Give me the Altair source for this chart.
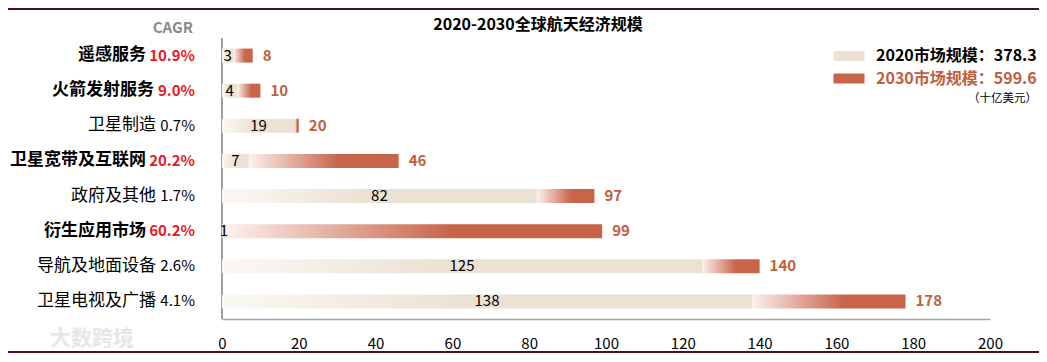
import altair as alt
import pandas as pd

categories = ["遥感服务", "火箭发射服务", "卫星制造", "卫星宽带及互联网",
              "政府及其他", "衍生应用市场", "导航及地面设备", "卫星电视及广播"]
cagr = [10.9, 9.0, 0.7, 20.2, 1.7, 60.2, 2.6, 4.1]
v2020 = [3, 4, 19, 7, 82, 1, 125, 138]
v2030 = [8, 10, 20, 46, 97, 99, 140, 178]
x_ticks = [0, 20, 40, 60, 80, 100, 120, 140, 160, 180, 200]
series = ["2020市场规模：378.3", "2030市场规模：599.6"]
title_text = "2020-2030全球航天经济规模"
unit_text = "（十亿美元）"

labels = [f"{c} {g:.1f}%" for c, g in zip(categories, cagr)]
df = pd.DataFrame({
    "label": labels,
    "cagr": cagr,
    "cagr_txt": [f"{g:.1f}%" for g in cagr],
    "v2020": v2020,
    "v2030": v2030,
})
df["mid"] = df["v2020"] / 2
hl = [l for l, g in zip(labels, cagr) if g >= 9]

FONT = "Noto Sans CJK SC"
TERRA = "#C8644A"
TERRA_TXT = "#C0603F"
RED = "#E8191F"

in_hl = "indexof([" + ",".join(f"'{h}'" for h in hl) + "], datum.value) >= 0"
long_cagr = "length(split(datum.value, ' ')[1]) == 5"

y_enc = alt.Y(
    "label:N", sort=labels, title="CAGR",
    scale=alt.Scale(paddingInner=0.6, paddingOuter=0.3),
    axis=alt.Axis(
        ticks=False, labelLimit=400, labelOverlap=False,
        labelExpr="split(datum.value, ' ')[0]",
        labelPadding={"condition": [
            {"test": f"({in_hl}) && ({long_cagr})", "value": 76},
            {"test": in_hl, "value": 68}], "value": 66},
        labelFont=FONT, labelFontSize=17, labelColor="#000000",
        labelFontWeight={"condition": {"test": in_hl, "value": "bold"}, "value": "normal"},
        domainColor="#7F7F7F", domainWidth=1.5, translate=0,
        titleAngle=0, titleAlign="right", titleBaseline="alphabetic",
        titleX=-29, titleY=-5, titleFont=FONT, titleFontSize=15,
        titleFontWeight="bold", titleColor="#8C8C8C",
    ),
)
x_scale = alt.Scale(domain=[0, 200], nice=False)
x_axis = alt.Axis(values=x_ticks, ticks=False, grid=False, labelPadding=17,
                  labelFlush=False, labelFont=FONT, labelFontSize=15,
                  labelColor="#000000", domainColor="#A6A6A6", domainWidth=1.5,
                  title=None)

base = alt.Chart(df)

grad2020 = alt.Gradient(gradient="linear", x1=0, x2=1, y1=0, y2=0, stops=[
    alt.GradientStop(offset=0, color="#FBF8F4"),
    alt.GradientStop(offset=0.45, color="#ECE2D4"),
    alt.GradientStop(offset=1, color="#ECE2D4"),
])
grad2030 = alt.Gradient(gradient="linear", x1=0, x2=1, y1=0, y2=0, stops=[
    alt.GradientStop(offset=0, color="#FCF1EE"),
    alt.GradientStop(offset=0.6, color=TERRA),
    alt.GradientStop(offset=1, color=TERRA),
])

bar2020 = base.mark_bar(height=14, color=grad2020).encode(
    x=alt.X("v2020:Q", scale=x_scale, axis=x_axis), x2=alt.value(0), y=y_enc)
bar2030 = base.mark_bar(height=14, color=grad2030).encode(
    x=alt.X("v2020:Q", scale=x_scale, axis=x_axis), x2="v2030:Q", y=y_enc)

txt2020 = base.mark_text(font=FONT, fontSize=15, color="#000000",
                         align="center", baseline="middle").encode(
    x=alt.X("mid:Q", scale=x_scale), y=y_enc, text="v2020:Q")
txt2030 = base.mark_text(font=FONT, fontSize=15, fontWeight="bold", color=TERRA_TXT,
                         align="left", baseline="middle", dx=10).encode(
    x=alt.X("v2030:Q", scale=x_scale), y=y_enc, text="v2030:Q")

cagr_hi = base.transform_filter("datum.cagr >= 9").mark_text(
    font=FONT, fontSize=15, fontWeight="bold", color=RED,
    align="right", baseline="middle").encode(
    x=alt.value(-27), y=y_enc, text="cagr_txt:N")
cagr_lo = base.transform_filter("datum.cagr < 9").mark_text(
    font=FONT, fontSize=15, color="#000000",
    align="right", baseline="middle").encode(
    x=alt.value(-27), y=y_enc, text="cagr_txt:N")

leg_df = pd.DataFrame({"series": series})
legend_layer = alt.Chart(leg_df).mark_point(filled=True, opacity=0).encode(
    color=alt.Color("series:N", sort=series,
                    scale=alt.Scale(domain=series, range=["#ECE2D4", TERRA]),
                    legend=alt.Legend(
                        title=unit_text, titleOrient="bottom", titleAnchor="end",
                        titleFont=FONT, titleFontSize=11.5, titleFontWeight="normal",
                        titleColor="#000000", titlePadding=6,
                        orient="none", legendX=617, legendY=8, padding=0,
                        symbolType="M-1.55,-0.5H1.55V0.5H-1.55Z", symbolSize=400,
                        symbolOpacity=1, symbolStrokeWidth=0, rowPadding=4.5,
                        labelOffset=17, labelLimit=400, labelFont=FONT,
                        labelFontSize=16, labelFontWeight="bold",
                        labelColor=alt.ExprRef(expr=f"datum.value == '{series[1]}' ? '{TERRA_TXT}' : '#000000'"),
                    )),
    x=alt.value(0), y=alt.value(0))

one = pd.DataFrame({"t": [title_text], "u": ["大数跨境"]})
title_mark = alt.Chart(one).mark_text(
    font=FONT, fontSize=16, fontWeight="bold", color="#000000",
    align="center", baseline="middle").encode(
    x=alt.value(316), y=alt.value(-13), text="t:N")
top_rule = alt.Chart(one).mark_rule(color="#4A1414", strokeWidth=2).encode(
    x=alt.value(-214), x2=alt.value(817), y=alt.value(-29))
bot_rule = alt.Chart(one).mark_rule(color="#4A1414", strokeWidth=2).encode(
    x=alt.value(-214), x2=alt.value(817), y=alt.value(314))
watermark = alt.Chart(one).mark_text(
    font=FONT, fontSize=21, fontWeight="bold", color="#E6E6E6",
    align="left", baseline="middle").encode(
    x=alt.value(-172), y=alt.value(301), text="u:N")

chart = alt.layer(
    bar2020, bar2030, txt2020, txt2030, cagr_hi, cagr_lo, legend_layer,
    title_mark, top_rule, bot_rule, watermark,
).properties(
    width=768, height=281,
    padding={"left": 214, "top": 30, "right": 49, "bottom": 35},
    autosize=alt.AutoSizeParams(type="none"),
).configure_view(stroke=None)

chart.save("out.html", embed_options={"renderer": "svg", "actions": False})
